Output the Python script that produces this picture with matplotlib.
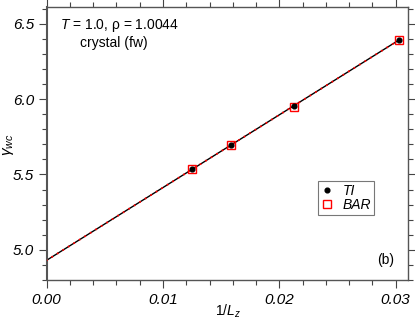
import matplotlib
matplotlib.use("Agg")
import matplotlib.pyplot as plt
from matplotlib.ticker import MultipleLocator

plt.rcParams['font.family'] = ['Liberation Sans', 'DejaVu Sans']
plt.rcParams['mathtext.fontset'] = 'custom'
plt.rcParams['mathtext.it'] = 'Liberation Sans:italic'
plt.rcParams['mathtext.rm'] = 'Liberation Sans'

# data
inv_Lz = [0.0125, 0.01587, 0.02128, 0.03030]
gamma_TI = [5.535, 5.693, 5.951, 6.392]
gamma_BAR = [5.533, 5.696, 5.948, 6.390]
fit_x = [0.0, 0.0303]
fit_TI = [4.931, 6.392]
fit_BAR = [4.931, 6.392]
xticks = [0.00, 0.01, 0.02, 0.03]
yticks = [5.0, 5.5, 6.0, 6.5]

fig = plt.figure(figsize=(4.15, 3.21), dpi=100)
ax = fig.add_axes([0.1125, 0.1277, 0.8699, 0.8505])

ax.plot(fit_x, fit_TI, color='black', lw=1.0, zorder=2)
ax.plot(fit_x, fit_BAR, color='red', lw=1.5, ls=(0, (0.01, 3.1)),
        dash_capstyle='round', zorder=3)
ax.plot(inv_Lz, gamma_BAR, ls='none', marker='s', ms=5.8, mfc='none', mec='red', mew=1.0,
        label='BAR', zorder=4)
ax.plot(inv_Lz, gamma_TI, ls='none', marker='o', ms=3.4, color='black', label='TI', zorder=5)

ax.set_xlim(0, 0.03103)
ax.set_ylim(4.8, 6.61)
ax.set_xticks(xticks)
ax.set_xticklabels([f"{v:.2f}" for v in xticks], fontstyle='italic', fontsize=11)
ax.set_yticks(yticks)
ax.set_yticklabels([f"{v:.1f}" for v in yticks], fontstyle='italic', fontsize=11)
ax.xaxis.set_minor_locator(MultipleLocator(0.002))
ax.yaxis.set_minor_locator(MultipleLocator(0.1))
ax.tick_params(which='both', direction='out', top=True, right=True, color='#444444', width=0.8)
ax.tick_params(which='major', length=6, pad=3)
ax.tick_params(which='minor', length=3.5)
for s in ax.spines.values():
    s.set_color('#555555')
    s.set_linewidth(1.0)
ax.spines['left'].set_linewidth(1.5)

ax.set_xlabel(r'$1/L_z$', fontsize=10, va='center')
ax.xaxis.set_label_coords(0.502, -0.113)
fig.text(8 / 415, 1 - 145 / 321, r'$\gamma_{wc}$', fontsize=11, rotation=90,
         ha='center', va='center')

ax.text(0.00114, 6.489, r'$T$ = 1.0, ρ = 1.0044', fontsize=10, ha='left', va='center')
ax.text(0.00286, 6.368, 'crystal (fw)', fontsize=10, ha='left', va='center')
ax.text(0.02987, 4.932, '(b)', fontsize=10, ha='right', va='center')

handles, labels = ax.get_legend_handles_labels()
leg = ax.legend(handles[::-1], labels[::-1], loc='upper left', bbox_to_anchor=(0.7507, 0.3626),
                frameon=True, fancybox=False, edgecolor='#555555',
                prop={'style': 'italic', 'size': 10}, handlelength=1.0, handletextpad=0.6,
                borderpad=0.2, labelspacing=0.0, borderaxespad=0)
leg.get_frame().set_linewidth(0.8)

fig.savefig('out.png', dpi=100)
